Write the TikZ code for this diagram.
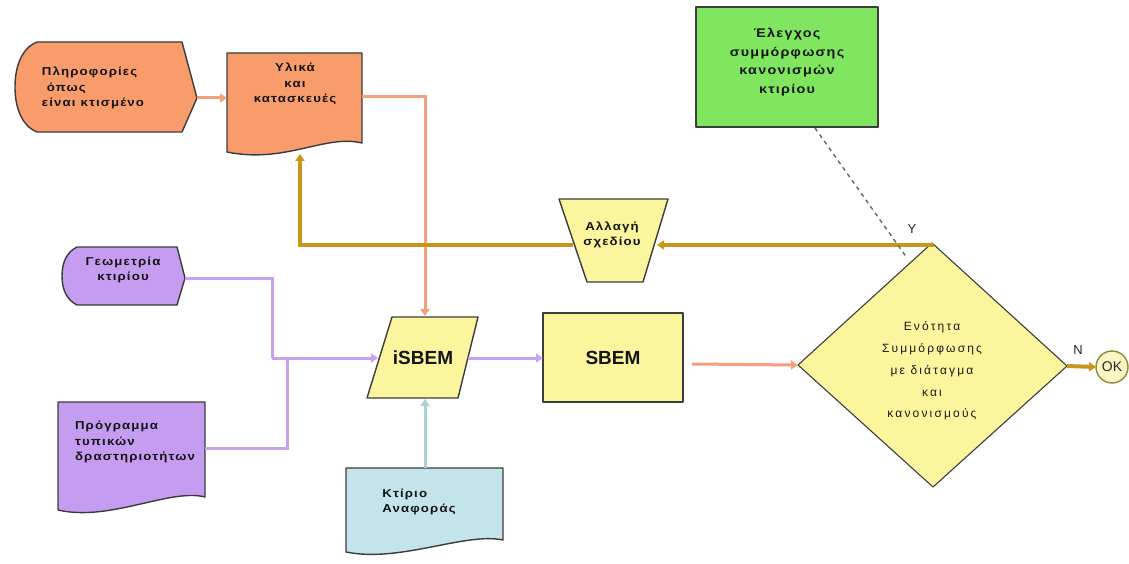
\documentclass[tikz,border=0pt]{standalone}
\usepackage{fontspec}
\setmainfont{Liberation Sans}
\newfontfamily\bl[LetterSpace=10,FakeStretch=1.15]{Liberation Sans}
\newfontfamily\rl[LetterSpace=18]{Liberation Sans}
\usetikzlibrary{arrows.meta}
\definecolor{orfill}{HTML}{F89C6C}
\definecolor{orline}{HTML}{F4A07C}
\definecolor{pufill}{HTML}{C49CF0}
\definecolor{puline}{HTML}{C8A2F2}
\definecolor{yefill}{HTML}{FBF69E}
\definecolor{goline}{HTML}{C9961C}
\definecolor{blfill}{HTML}{C2E4EA}
\definecolor{blline}{HTML}{AECFD4}
\definecolor{grfill}{HTML}{80E660}
\definecolor{okfill}{HTML}{FAF6C4}
\definecolor{okline}{HTML}{8C8C30}
\definecolor{bord}{HTML}{3C3C3C}
\begin{document}
\begin{tikzpicture}[x=1pt,y=-1pt,
  shp/.style={draw=bord,line width=1.4pt,line join=round},
  lbl/.style={font=\bl\bfseries\fontsize{11.5}{15.5}\selectfont,text=black!92,inner sep=0pt},
  rlbl/.style={font=\rl\fontsize{12}{21.7}\selectfont,text=black!90,inner sep=0pt},
  big/.style={font=\bfseries\fontsize{19}{22}\selectfont,text=black!92,inner sep=0pt},
  tip/.style={-{Triangle[width=9pt,length=7pt]}},
  orarr/.style={draw=orline,line width=3pt},
  puarr/.style={draw=puline,line width=3pt},
  goarr/.style={draw=goline,line width=4pt},
  blarr/.style={draw=blline,line width=3pt}]
\useasboundingbox (0,0) rectangle (1129,564);
\fill[white] (0,0) rectangle (1129,564);

% shapes
\filldraw[shp,fill=orfill] (37,42) -- (182,42) -- (197,98) -- (182,132) -- (37,132)
  .. controls (22,126) and (15,108) .. (15,87) .. controls (15,66) and (22,48) .. (37,42) -- cycle;
\filldraw[shp,fill=orfill] (227,53) -- (362,53) -- (362,143)
  .. controls (325,134) and (285,164) .. (227,152) -- cycle;
\filldraw[shp,fill=pufill] (77,247) -- (177,247) -- (185,278) -- (177,305) -- (77,305)
  .. controls (67,300) and (62,290) .. (62,276) .. controls (62,262) and (67,252) .. (77,247) -- cycle;
\filldraw[shp,fill=pufill] (58,402) -- (205,402) -- (205,497)
  .. controls (170,488) and (110,522) .. (58,510) -- cycle;
\filldraw[shp,fill=blfill] (346,468) -- (503,468) -- (503,540)
  .. controls (465,532) and (400,563) .. (346,552) -- cycle;
\filldraw[shp,fill=yefill] (392,317) -- (478,317) -- (458,398) -- (367,398) -- cycle;
\filldraw[shp,fill=yefill] (543,313) rectangle (683,402);
\filldraw[shp,fill=yefill] (559,199) -- (668,199) -- (643,282) -- (587,282) -- cycle;
\filldraw[shp,fill=grfill] (696,7) rectangle (878,127);
\filldraw[shp,fill=yefill,line width=1.1pt] (932,243) -- (1067,366) -- (933,487) -- (798,365) -- cycle;
\filldraw[draw=okline,line width=1.4pt,fill=okfill] (1112,367) circle (16);

% text nodes
\node[lbl,align=left] (info) at (93,88) {Πληροφορίες\\\ όπως\\είναι κτισμένο};
\node[lbl,align=center] (mat) at (295,84) {Υλικά\\και\\κατασκευές};
\node[lbl,align=center] (geo) at (123,270) {Γεωμετρία\\κτιρίου};
\node[lbl,align=left] (prog) at (135,442) {Πρόγραμμα\\τυπικών\\δραστηριοτήτων};
\node[lbl,align=left] (ref) at (419,502) {Κτίριο\\Αναφοράς};
\node[lbl,align=center] (chg) at (612,235) {Αλλαγή\\σχεδίου};
\node[lbl,align=center,font=\bl\bfseries\fontsize{12.5}{18.5}\selectfont] (chk) at (787,62) {Έλεγχος\\συμμόρφωσης\\κανονισμών\\κτιρίου};
\node[rlbl,align=center] (dec) at (932,371) {Ενότητα\\Συμμόρφωσης\\με διάταγμα\\και\\κανονισμούς};
\node[big] (isbem) at (423,358) {iSBEM};
\node[big] (sbem) at (613,358) {SBEM};
\node[font=\fontsize{14}{14}\selectfont,text=black!85] (ok) at (1112,367) {OK};
\node[font=\fontsize{13}{13}\selectfont,text=black!85] (ylab) at (912,229) {Y};
\node[font=\fontsize{13}{13}\selectfont,text=black!85] (nlab) at (1078,350) {N};

% connector coordinates
\coordinate (info-e) at (197,98);
\coordinate (mat-w) at (227,98);
\coordinate (mat-e) at (362,97);
\coordinate (mat-s) at (300,154);
\coordinate (isbem-n) at (425,316);
\coordinate (isbem-w) at (378,358);
\coordinate (isbem-e) at (468,358);
\coordinate (isbem-s) at (425,399);
\coordinate (sbem-w) at (543,358);
\coordinate (sbem-e) at (692,364);
\coordinate (geo-e) at (185,278);
\coordinate (prog-e) at (205,448);
\coordinate (ref-n) at (425,468);
\coordinate (chg-e) at (657,245);
\coordinate (chg-w) at (573,245);
\coordinate (dec-n) at (932,243);
\coordinate (dec-w) at (798,365);
\coordinate (dec-e) at (1067,366);
\coordinate (ok-w) at (1096,367);
\coordinate (chk-s) at (815,128);
\coordinate (dash-end) at (907,258);

% connectors
\draw[orarr,tip] (info-e) -- (mat-w);
\draw[orarr,tip] (mat-e) -- (mat-e -| isbem-n) -- (isbem-n);
\draw[puarr] (geo-e) -- (272,278) -- (272,358);
\draw[puarr] (prog-e) -- (287,448) -- (287,358);
\draw[puarr,tip] (272,358) -- (isbem-w);
\draw[puarr,tip] (isbem-e) -- (sbem-w);
\draw[blarr,tip] (ref-n) -- (isbem-s);
\draw[orarr,tip] (sbem-e) -- (dec-w);
\draw[goarr,tip] (dec-n) -- (dec-n |- chg-e) -- (chg-e);
\draw[goarr,tip] (chg-w) -- (300,245) -- (mat-s);
\draw[goarr,tip] (dec-e) -- (ok-w);
\draw[draw=gray!80!black,line width=1.4pt,dash pattern=on 4pt off 4pt] (chk-s) -- (dash-end);
\end{tikzpicture}
\end{document}
